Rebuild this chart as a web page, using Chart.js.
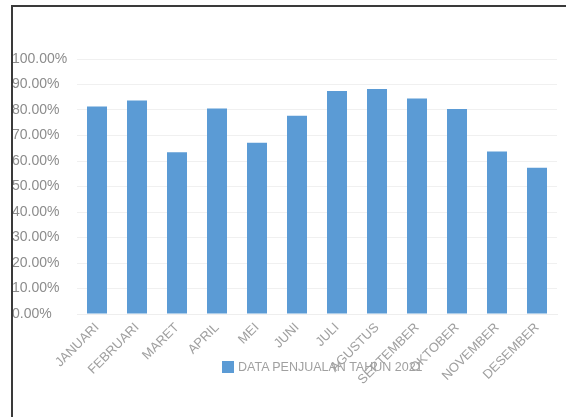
<!DOCTYPE html>
<html>
<head>
<meta charset="utf-8">
<script src="https://cdn.jsdelivr.net/npm/chart.js@4/dist/chart.umd.min.js"></script>
<style>
  html, body { margin: 0; padding: 0; background: #fff; }
  #wrap { position: relative; width: 566px; height: 417px; overflow: hidden; }
  #frame { position: absolute; left: 11px; top: 5px; width: 560px; height: 420px;
           border-left: 2px solid #3a3a3a; border-top: 2px solid #3a3a3a; box-sizing: border-box; }
  #legend { position: absolute; left: 222px; top: 361px; font: 12.5px "Liberation Sans", Arial, sans-serif;
            color: #a0a0a0; white-space: nowrap; line-height: 12px; }
  #legend span { display: inline-block; width: 12px; height: 12px; background: #5b9bd5;
                 vertical-align: top; margin-right: 4px; }
</style>
</head>
<body>
<div id="wrap">
  <canvas id="chart" width="566" height="417"></canvas>
  <div id="frame"></div>
  <div id="legend"><span></span>DATA PENJUALAN TAHUN 2021</div>
</div>
<script>
// Data penjualan per bulan (persen)
const bulan = ['JANUARI', 'FEBRUARI', 'MARET', 'APRIL', 'MEI', 'JUNI', 'JULI', 'AGUSTUS', 'SEPTEMBER', 'OKTOBER', 'NOVEMBER', 'DESEMBER'];
const penjualan = [81.4, 83.7, 63.4, 80.6, 67.2, 77.7, 87.5, 88.2, 84.5, 80.4, 63.7, 57.4];
const seriesLabel = 'DATA PENJUALAN TAHUN 2021';

const ctx = document.getElementById('chart').getContext('2d');
new Chart(ctx, {
  type: 'bar',
  data: {
    labels: bulan,
    datasets: [{
      label: seriesLabel,
      data: penjualan,
      backgroundColor: '#5b9bd5',
      borderWidth: 0,
      barPercentage: 0.5,
      categoryPercentage: 1.0
    }]
  },
  options: {
    responsive: false,
    animation: false,
    layout: { padding: { left: 12, right: 9, top: 59, bottom: 0 } },
    plugins: {
      legend: { display: false }, // legenda dibuat di HTML
      tooltip: { enabled: false }
    },
    scales: {
      x: {
        grid: { display: false, drawTicks: false },
        border: { color: '#eeeeee', width: 1 },
        ticks: {
          color: '#a0a0a0',
          font: { family: 'Liberation Sans, Arial, sans-serif', size: 13 },
          minRotation: 45,
          maxRotation: 45,
          padding: 6,
          autoSkip: false
        },
        afterFit: (scale) => { scale.height = 103; }
      },
      y: {
        min: 0,
        max: 100,
        grid: { color: '#f0f0f0', drawTicks: false },
        border: { display: false },
        ticks: {
          stepSize: 10,
          color: '#8c8c8c',
          crossAlign: 'far',
          font: { family: 'Liberation Sans, Arial, sans-serif', size: 14 },
          callback: (v) => v.toFixed(2) + '%'
        },
        afterFit: (scale) => { scale.width = 65; }
      }
    }
  }
});
</script>
</body>
</html>
